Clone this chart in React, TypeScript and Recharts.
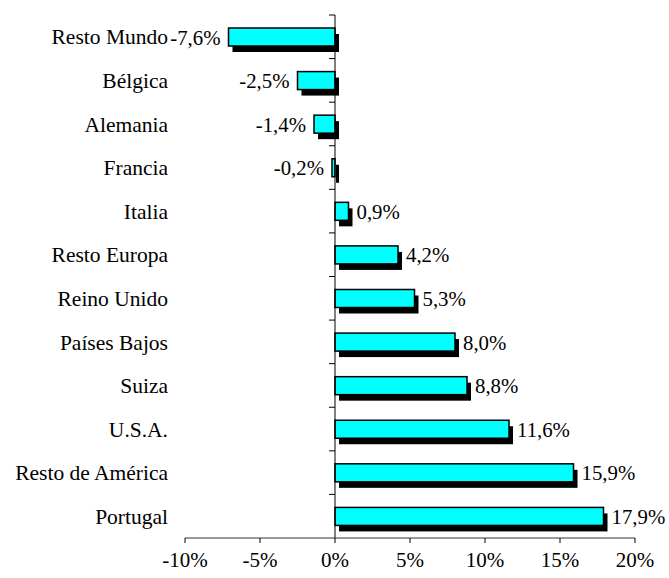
import React from 'react';
import { BarChart, Bar, XAxis, YAxis, ReferenceLine, LabelList } from 'recharts';

const categories = [
  'Resto Mundo', 'Bélgica', 'Alemania', 'Francia', 'Italia', 'Resto Europa',
  'Reino Unido', 'Países Bajos', 'Suiza', 'U.S.A.', 'Resto de América', 'Portugal',
];
// bar lengths as drawn in the picture
const values = [-7.1, -2.5, -1.4, -0.2, 0.9, 4.2, 5.3, 8.0, 8.8, 11.6, 15.9, 17.9];
// value labels as printed in the picture
const valueLabels = ['-7,6%', '-2,5%', '-1,4%', '-0,2%', '0,9%', '4,2%', '5,3%', '8,0%', '8,8%', '11,6%', '15,9%', '17,9%'];
const xTicks = [-10, -5, 0, 5, 10, 15, 20];

const data = categories.map((name, i) => ({ name, value: values[i], label: valueLabels[i] }));

const FONT = '"Liberation Serif", "Times New Roman", serif';
const FS_CAT = 21.5;
const FS_TICK = 21;
const FS_VAL = 20.8;

const ShadowBar = (props: any) => {
  const { x, y, width, height } = props;
  const left = Math.min(x, x + width);
  const w = Math.abs(width);
  return (
    <g>
      <rect x={left + 4} y={y + 6} width={w} height={height} fill="#000" />
      <rect x={left} y={y} width={w} height={height} fill="#00FFFF" stroke="#000" strokeWidth={1.5} />
    </g>
  );
};

const ValueLabel = (props: any) => {
  const { x, y, width, height, value, index } = props;
  const left = Math.min(x, x + width);
  const right = Math.max(x, x + width);
  const neg = values[index] < 0;
  return (
    <text
      x={neg ? left - 8 : right + 8}
      y={y + height / 2}
      textAnchor={neg ? 'end' : 'start'}
      dominantBaseline="central"
      fontFamily={FONT}
      fontSize={FS_VAL}
      fill="#000"
    >
      {value}
    </text>
  );
};

const ZeroAxis = (props: any) => {
  const { x1, y1, x2, y2 } = props;
  const top = Math.min(y1, y2);
  const bottom = Math.max(y1, y2);
  const n = categories.length;
  const step = (bottom - top) / n;
  const ticks = [];
  for (let i = 0; i < n; i++) {
    const ty = top + i * step;
    ticks.push(<line key={i} x1={x1 - 6} y1={ty} x2={x1} y2={ty} stroke="#000" strokeWidth={1} />);
  }
  return (
    <g>
      <line x1={x1} y1={top} x2={x2} y2={bottom} stroke="#000" strokeWidth={1} />
      {ticks}
    </g>
  );
};

export default function App() {
  return (
    <div style={{ position: 'absolute', left: 0, top: 0, width: 669, height: 578, background: '#fff' }}>
      <BarChart
        width={669}
        height={578}
        data={data}
        layout="vertical"
        margin={{ top: 15, right: 34, bottom: 0, left: 0 }}
      >
        <XAxis
          type="number"
          domain={[-10, 20]}
          ticks={xTicks}
          interval={0}
          tickFormatter={(v: number) => `${v}%`}
          height={40}
          axisLine={{ stroke: '#333' }}
          tickLine={{ stroke: '#000' }}
          tickSize={5}
          tickMargin={9}
          tick={{ fill: '#000', fontSize: FS_TICK, fontFamily: FONT }}
        />
        <YAxis
          type="category"
          dataKey="name"
          width={185}
          interval={0}
          axisLine={false}
          tickLine={false}
          tickSize={0}
          tickMargin={17}
          tick={{ fill: '#000', fontSize: FS_CAT, fontFamily: FONT }}
        />
        <Bar dataKey="value" barSize={18} shape={ShadowBar} isAnimationActive={false}>
          <LabelList dataKey="label" content={ValueLabel} />
        </Bar>
        <ReferenceLine x={0} shape={ZeroAxis} />
      </BarChart>
    </div>
  );
}
